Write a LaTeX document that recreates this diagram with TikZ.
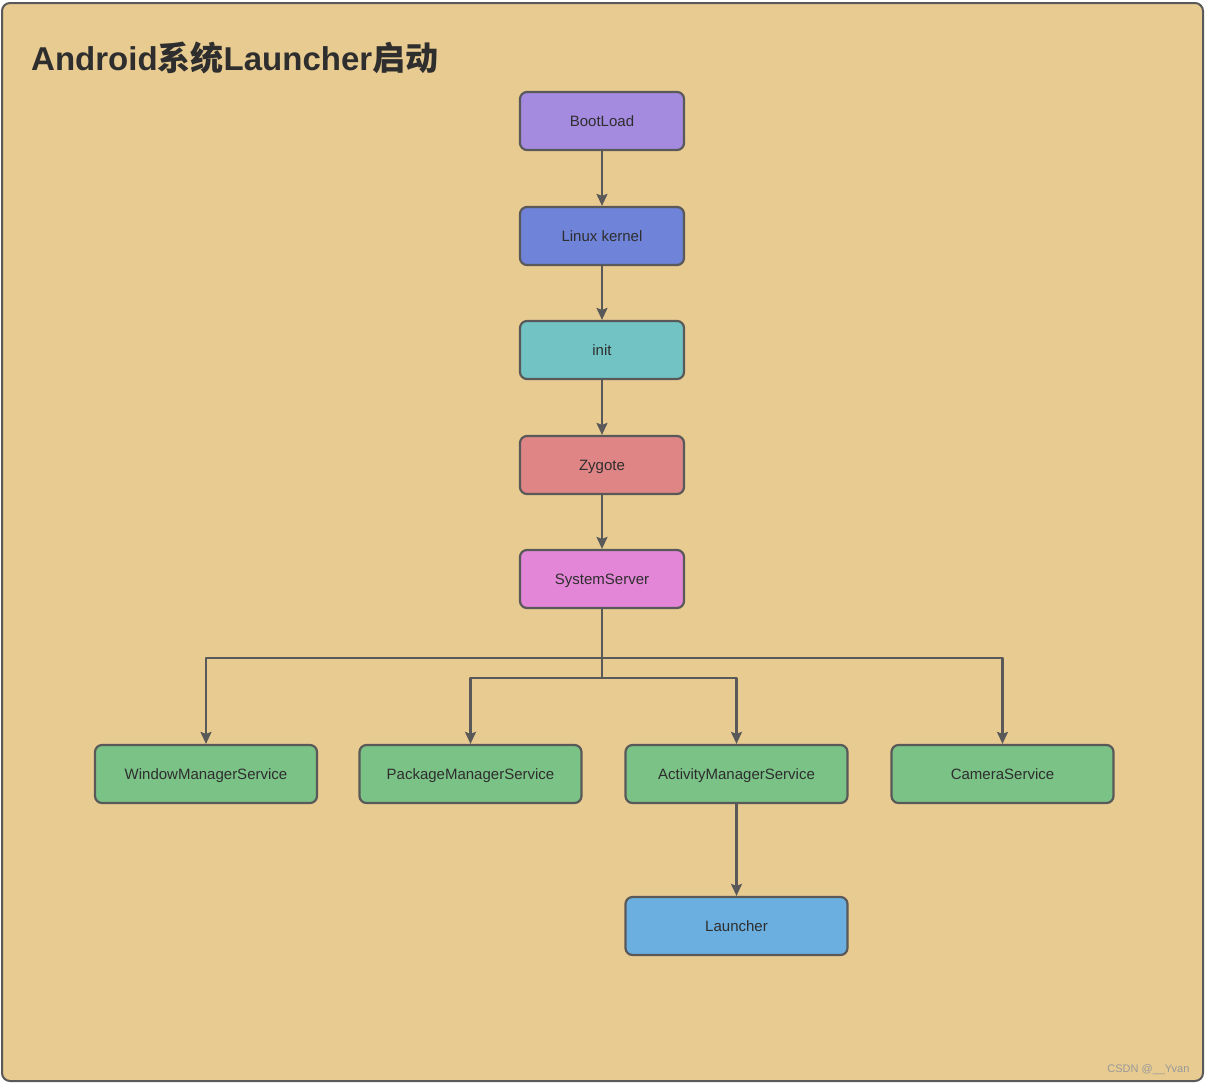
\documentclass[tikz,border=0pt]{standalone}
\usepackage{fontspec}
\setmainfont{Liberation Sans}
\newfontfamily\cjkbold{Noto Sans CJK SC Bold}
\usetikzlibrary{arrows.meta}
\definecolor{cFrame}{HTML}{E8CB91}
\definecolor{cLine}{HTML}{595959}
\definecolor{cText}{HTML}{2E2E2E}
\definecolor{cBoot}{HTML}{A48BE0}
\definecolor{cKernel}{HTML}{6F83D9}
\definecolor{cInit}{HTML}{72C4C4}
\definecolor{cZygote}{HTML}{E08585}
\definecolor{cSys}{HTML}{E386D7}
\definecolor{cService}{HTML}{7BC287}
\definecolor{cLauncher}{HTML}{6AAFE0}
\tikzset{
  box/.style={draw=cLine,line width=2.2pt,rounded corners=7pt,minimum width=164pt,
    minimum height=58pt,inner sep=0pt,text=cText,text height=13pt,text depth=2.3pt,
    font=\fontsize{15}{17}\selectfont},
  wide/.style={box,minimum width=222pt},
  arrow/.style={draw=cLine,line width=2.2pt,-{Stealth[length=12pt,width=11pt,inset=2pt]}}
}
\begin{document}
\begin{tikzpicture}[x=1pt,y=-1pt,line join=round,line cap=round]
\useasboundingbox (0,0) rectangle (1208,1084);
\draw[cLine,line width=2pt,fill=cFrame,rounded corners=8pt] (2,3) rectangle (1203,1081);
\node[anchor=base west,text=cText,font=\fontsize{33}{36}\selectfont,inner sep=0pt] (title) at (31,70)
  {\bfseries Android\cjkbold 系统\bfseries\rmfamily Launcher\cjkbold 启动};
% main chain
\node[box,fill=cBoot] (boot) at (602,121) {BootLoad};
\node[box,fill=cKernel] (kernel) at (602,236) {Linux kernel};
\node[box,fill=cInit] (init) at (602,350) {init};
\node[box,fill=cZygote] (zygote) at (602,465) {Zygote};
\node[box,fill=cSys] (sys) at (602,579) {SystemServer};
% services
\node[wide,fill=cService] (wms) at (206,774) {WindowManagerService};
\node[wide,fill=cService] (pms) at (470.5,774) {PackageManagerService};
\node[wide,fill=cService] (ams) at (736.5,774) {ActivityManagerService};
\node[wide,fill=cService] (cam) at (1002.5,774) {CameraService};
\node[wide,fill=cLauncher] (launcher) at (736.5,926) {Launcher};
\foreach \a/\b in {boot/kernel, kernel/init, init/zygote, zygote/sys}
  \draw[arrow] (\a) -- (\b);
\foreach \n/\d in {wms/49, cam/49, pms/69, ams/69}
  \draw[arrow] (sys.south) -- ++(0,\d) -| (\n.north);
\draw[arrow] (ams) -- (launcher);
\node[anchor=base east,text=black!40,font=\fontsize{11}{13}\selectfont] (mark) at (1193,1072) {CSDN @\_\_Yvan};
\end{tikzpicture}
\end{document}
